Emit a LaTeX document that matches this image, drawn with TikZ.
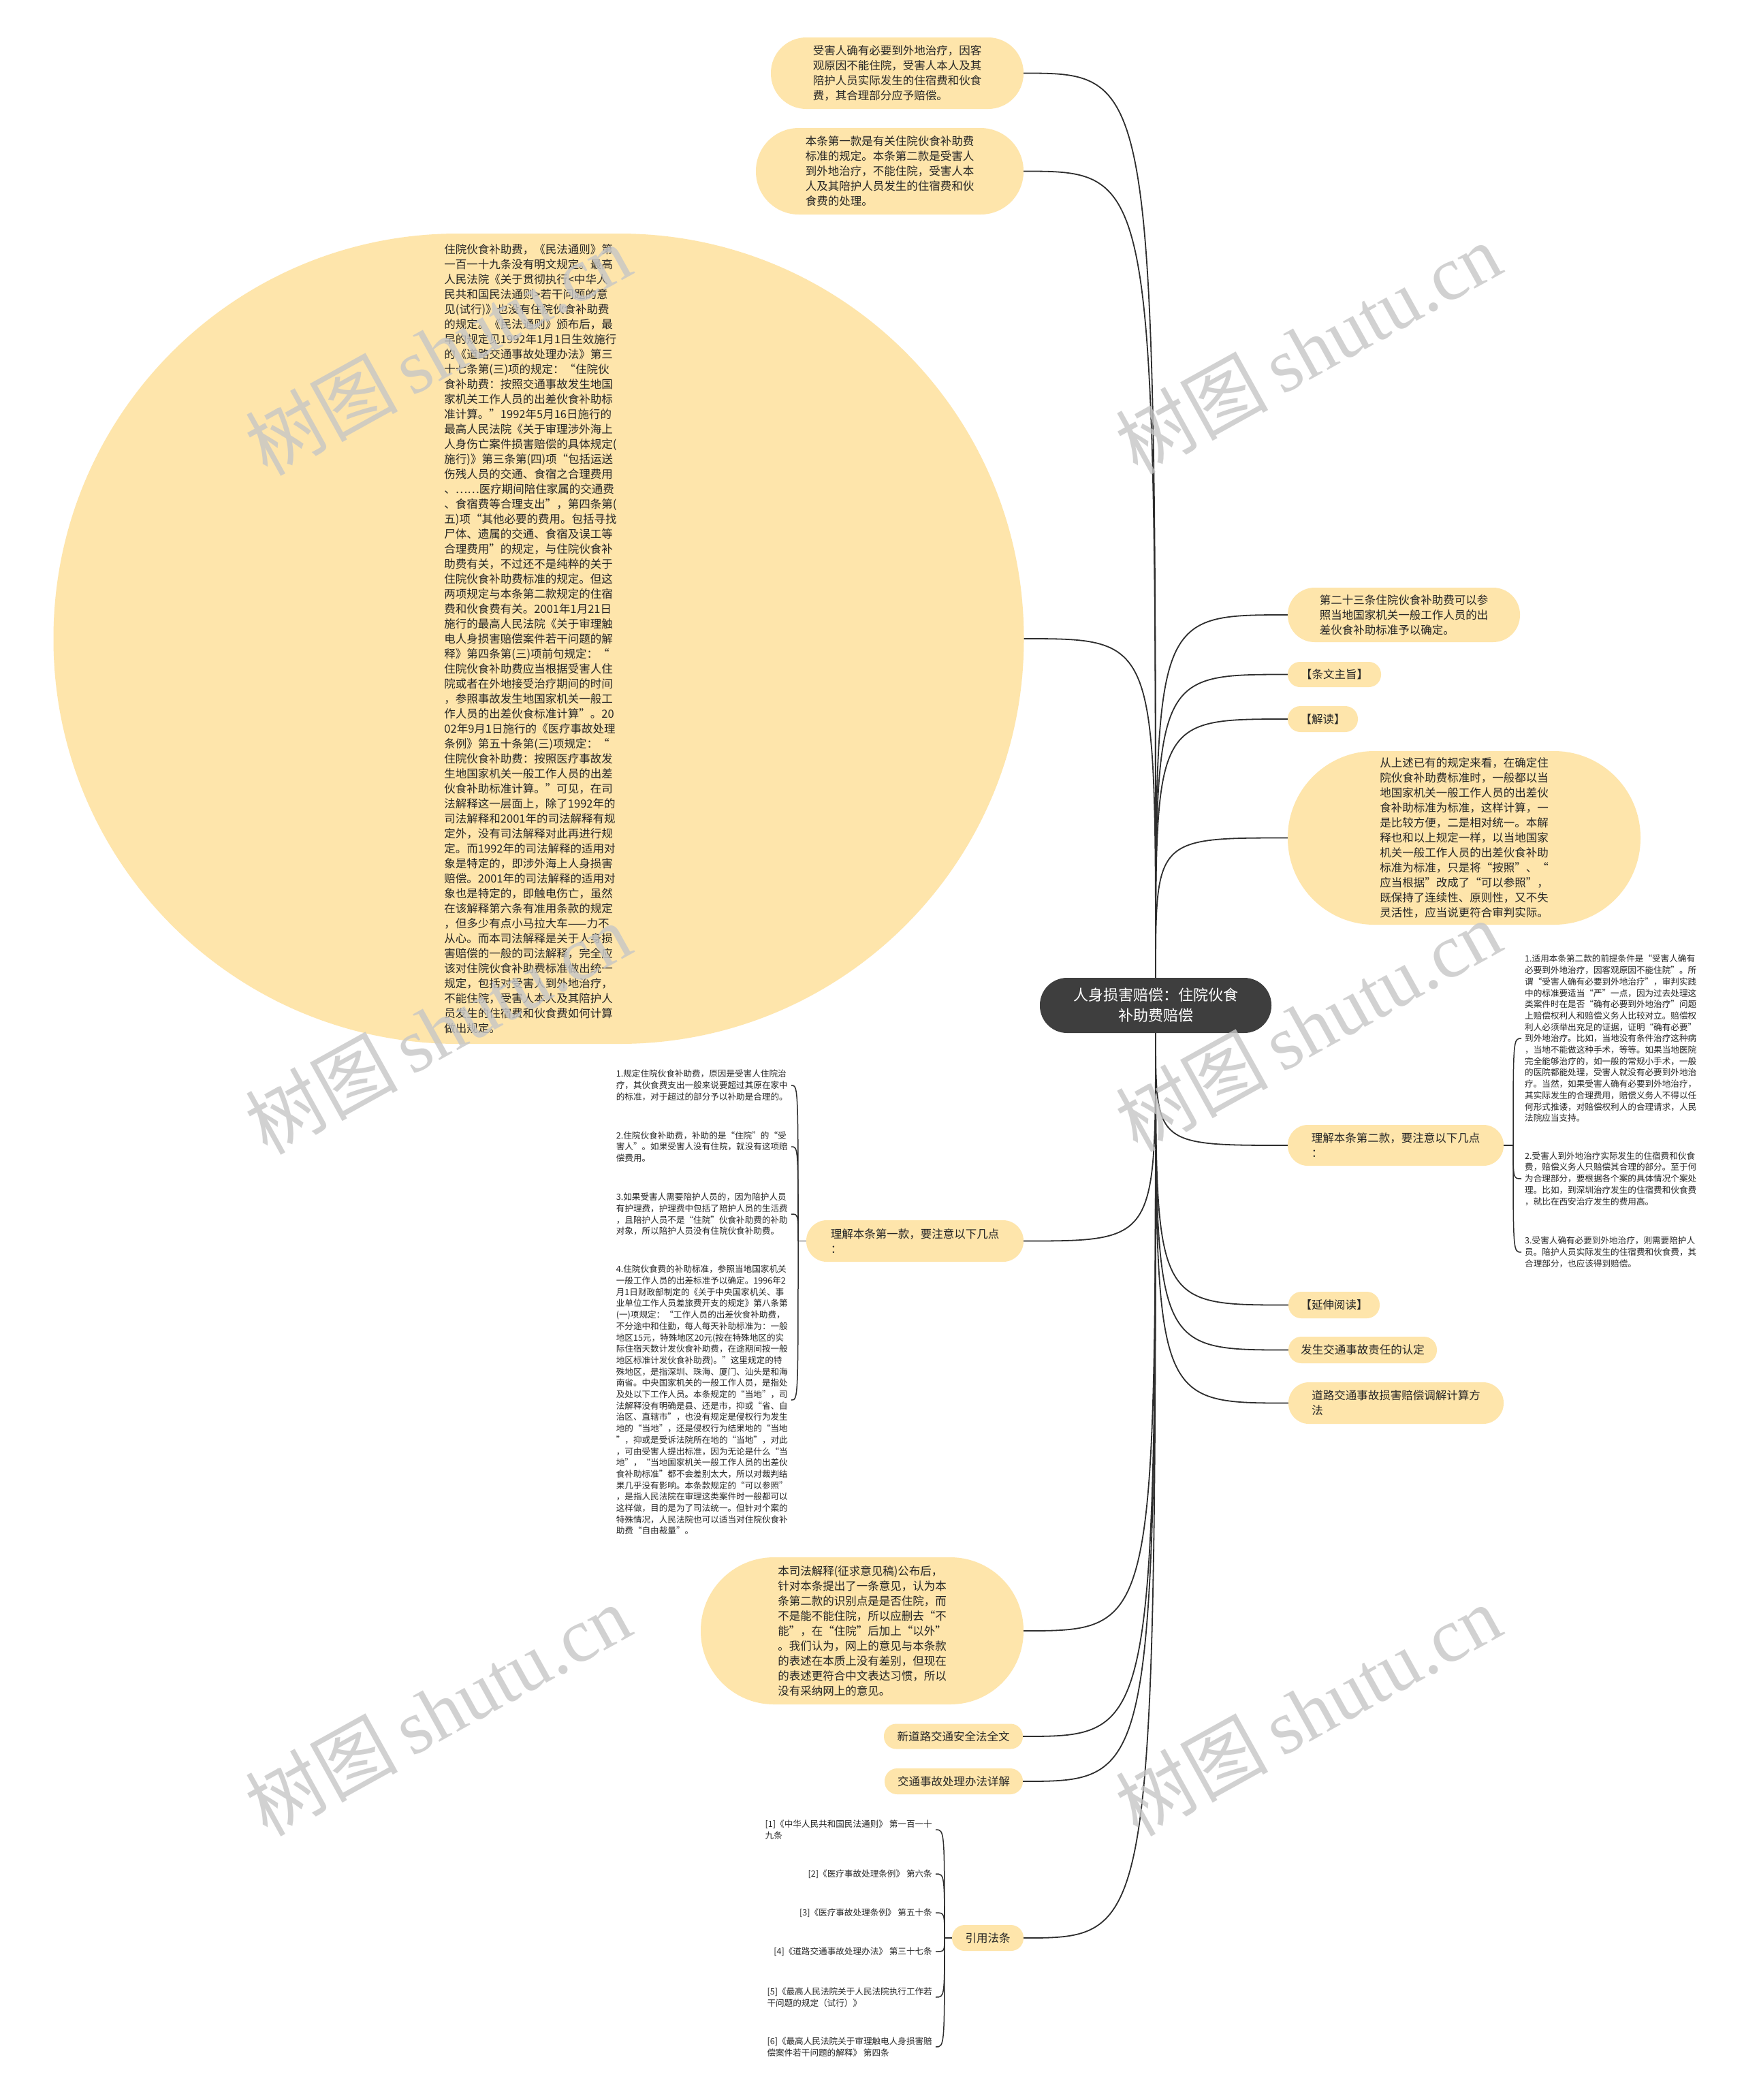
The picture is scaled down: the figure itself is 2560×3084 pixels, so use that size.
\documentclass[tikz,border=0pt]{standalone}
\usepackage{fontspec}
\setmainfont{Noto Sans CJK SC}
\newfontfamily\wmserif{Liberation Serif}
\usetikzlibrary{calc}
\definecolor{nodefill}{HTML}{FEE5AB}
\definecolor{rootfill}{HTML}{3E3E3E}
\definecolor{linec}{HTML}{2E2E2E}
\definecolor{txt}{HTML}{262626}
\definecolor{wm}{HTML}{C6C6C6}
\tikzset{
  pill/.style n args={3}{rectangle, fill=nodefill, text=txt, minimum width=#1pt, minimum height=#2pt, rounded corners=#3pt, inner sep=0pt, align=left, font=\fontsize{16.5}{22}\selectfont},
  rootbox/.style={rectangle, fill=rootfill, text=white, minimum width=340pt, minimum height=81pt, rounded corners=40pt, inner sep=0pt, align=center, font=\fontsize{22}{30}\selectfont},
  item/.style={inner xsep=5pt, inner ysep=0pt, align=left, text=txt, font=\fontsize{12.6}{16.7}\selectfont},
  conn/.style={draw=linec, line width=1.8pt},
  brk/.style={draw=linec, line width=1.5pt},
  wmark/.style={text=wm, text opacity=0.8, rotate=29, inner sep=0pt},
}
\begin{document}
\begin{tikzpicture}[x=1pt,y=-1pt]
\useasboundingbox (0,0) rectangle (2560,3084);
\fill[white] (0,0) rectangle (2560,3084);

% root
\node[rootbox] (root) at (1697,1476.5) {人身损害赔偿：住院伙食\\补助费赔偿};

% upper-left nodes
\node[pill={371}{105}{52}] (n1) at (1317.5,107.5) {受害人确有必要到外地治疗，因客\\观原因不能住院，受害人本人及其\\陪护人员实际发生的住宿费和伙食\\费，其合理部分应予赔偿。};
\node[pill={393}{127}{63}] (n2) at (1306.5,251.5) {本条第一款是有关住院伙食补助费\\标准的规定。本条第二款是受害人\\到外地治疗，不能住院，受害人本\\人及其陪护人员发生的住宿费和伙\\食费的处理。};
\node[pill={1425}{1190}{594}] (e1) at (791,938) {};
\node[inner sep=0pt, align=left, text=txt, font=\fontsize{16.5}{22}\selectfont] (e1t) at (779,938) {住院伙食补助费，《民法通则》第\\
一百一十九条没有明文规定。最高\\
人民法院《关于贯彻执行<中华人\\
民共和国民法通则>若干问题的意\\
见(试行)》也没有住院伙食补助费\\
的规定。《民法通则》颁布后，最\\
早的规定见1992年1月1日生效施行\\
的《道路交通事故处理办法》第三\\
十七条第(三)项的规定：“住院伙\\
食补助费：按照交通事故发生地国\\
家机关工作人员的出差伙食补助标\\
准计算。”1992年5月16日施行的\\
最高人民法院《关于审理涉外海上\\
人身伤亡案件损害赔偿的具体规定(\\
施行)》第三条第(四)项“包括运送\\
伤残人员的交通、食宿之合理费用\\
、……医疗期间陪住家属的交通费\\
、食宿费等合理支出”，第四条第(\\
五)项“其他必要的费用。包括寻找\\
尸体、遗属的交通、食宿及误工等\\
合理费用”的规定，与住院伙食补\\
助费有关，不过还不是纯粹的关于\\
住院伙食补助费标准的规定。但这\\
两项规定与本条第二款规定的住宿\\
费和伙食费有关。2001年1月21日\\
施行的最高人民法院《关于审理触\\
电人身损害赔偿案件若干问题的解\\
释》第四条第(三)项前句规定：“\\
住院伙食补助费应当根据受害人住\\
院或者在外地接受治疗期间的时间\\
，参照事故发生地国家机关一般工\\
作人员的出差伙食标准计算”。20\\
02年9月1日施行的《医疗事故处理\\
条例》第五十条第(三)项规定：“\\
住院伙食补助费：按照医疗事故发\\
生地国家机关一般工作人员的出差\\
伙食补助标准计算。”可见，在司\\
法解释这一层面上，除了1992年的\\
司法解释和2001年的司法解释有规\\
定外，没有司法解释对此再进行规\\
定。而1992年的司法解释的适用对\\
象是特定的，即涉外海上人身损害\\
赔偿。2001年的司法解释的适用对\\
象也是特定的，即触电伤亡，虽然\\
在该解释第六条有准用条款的规定\\
，但多少有点小马拉大车——力不\\
从心。而本司法解释是关于人身损\\
害赔偿的一般的司法解释，完全应\\
该对住院伙食补助费标准做出统一\\
规定，包括对受害人到外地治疗，\\
不能住院，受害人本人及其陪护人\\
员发生的住宿费和伙食费如何计算\\
做出规定。};

% right nodes
\node[pill={341}{80}{39.5}] (r1) at (2061.5,903) {第二十三条住院伙食补助费可以参\\照当地国家机关一般工作人员的出\\差伙食补助标准予以确定。};
\node[pill={137}{37}{18}] (r2) at (1959.5,990.5) {【条文主旨】};
\node[pill={103}{38}{18.5}] (r3) at (1942.5,1056) {【解读】};
\node[pill={518}{255}{127}] (r4) at (2150,1230.5) {从上述已有的规定来看，在确定住\\院伙食补助费标准时，一般都以当\\地国家机关一般工作人员的出差伙\\食补助标准为标准，这样计算，一\\是比较方便，二是相对统一。本解\\释也和以上规定一样，以当地国家\\机关一般工作人员的出差伙食补助\\标准为标准，只是将“按照”、“\\应当根据”改成了“可以参照”，\\既保持了连续性、原则性，又不失\\灵活性，应当说更符合审判实际。};
\node[pill={317}{60}{29.5}] (r5) at (2049.5,1682) {理解本条第二款，要注意以下几点\\：};
\node[pill={134}{39}{19}] (r6) at (1959,1916.5) {【延伸阅读】};
\node[pill={218}{39}{19}] (r7) at (2001,1982.5) {发生交通事故责任的认定};
\node[pill={316}{61}{30}] (r8) at (2050,2060.5) {道路交通事故损害赔偿调解计算方\\法};

% lower-left nodes
\node[pill={319}{61}{30}] (l1) at (1343.5,1822.5) {理解本条第一款，要注意以下几点\\：};
\node[pill={474}{216}{107.5}] (l2) at (1266,2395) {本司法解释(征求意见稿)公布后，\\针对本条提出了一条意见，认为本\\条第二款的识别点是是否住院，而\\不是能不能住院，所以应删去“不\\能”，在“住院”后加上“以外”\\。我们认为，网上的意见与本条款\\的表述在本质上没有差别，但现在\\的表述更符合中文表达习惯，所以\\没有采纳网上的意见。};
\node[pill={204}{37}{18}] (l3) at (1400,2550) {新道路交通安全法全文};
\node[pill={203}{38}{18.5}] (l4) at (1400.5,2616) {交通事故处理办法详解};
\node[pill={105}{38}{18.5}] (l5) at (1450.5,2846) {引用法条};

% items of r5
\node[item, anchor=west] (a1) at (2234,1525) {1.适用本条第二款的前提条件是“受害人确有\\必要到外地治疗，因客观原因不能住院”。所\\谓“受害人确有必要到外地治疗”，审判实践\\中的标准要适当“严”一点，因为过去处理这\\类案件时在是否“确有必要到外地治疗”问题\\上赔偿权利人和赔偿义务人比较对立。赔偿权\\利人必须举出充足的证据，证明“确有必要”\\到外地治疗。比如，当地没有条件治疗这种病\\，当地不能做这种手术，等等。如果当地医院\\完全能够治疗的，如一般的常规小手术，一般\\的医院都能处理，受害人就没有必要到外地治\\疗。当然，如果受害人确有必要到外地治疗，\\其实际发生的合理费用，赔偿义务人不得以任\\何形式推诿，对赔偿权利人的合理请求，人民\\法院应当支持。};
\node[item, anchor=west] (a2) at (2234,1731) {2.受害人到外地治疗实际发生的住宿费和伙食\\费，赔偿义务人只赔偿其合理的部分。至于何\\为合理部分，要根据各个案的具体情况个案处\\理。比如，到深圳治疗发生的住宿费和伙食费\\，就比在西安治疗发生的费用高。};
\node[item, anchor=west] (a3) at (2234,1839) {3.受害人确有必要到外地治疗，则需要陪护人\\员。陪护人员实际发生的住宿费和伙食费，其\\合理部分，也应该得到赔偿。};

% items of l1
\node[item, anchor=east] (b1) at (1162,1594) {1.规定住院伙食补助费，原因是受害人住院治\\疗，其伙食费支出一般来说要超过其原在家中\\的标准，对于超过的部分予以补助是合理的。};
\node[item, anchor=east] (b2) at (1162,1684) {2.住院伙食补助费，补助的是“住院”的“受\\害人”。如果受害人没有住院，就没有这项赔\\偿费用。};
\node[item, anchor=east] (b3) at (1162,1783) {3.如果受害人需要陪护人员的，因为陪护人员\\有护理费，护理费中包括了陪护人员的生活费\\，且陪护人员不是“住院”伙食补助费的补助\\对象，所以陪护人员没有住院伙食补助费。};
\node[item, anchor=east] (b4) at (1162,2056) {4.住院伙食费的补助标准，参照当地国家机关\\一般工作人员的出差标准予以确定。1996年2\\月1日财政部制定的《关于中央国家机关、事\\业单位工作人员差旅费开支的规定》第八条第\\(一)项规定：“工作人员的出差伙食补助费，\\不分途中和住勤，每人每天补助标准为：一般\\地区15元，特殊地区20元(按在特殊地区的实\\际住宿天数计发伙食补助费，在途期间按一般\\地区标准计发伙食补助费)。”这里规定的特\\殊地区，是指深圳、珠海、厦门、汕头是和海\\南省。中央国家机关的一般工作人员，是指处\\及处以下工作人员。本条规定的“当地”，司\\法解释没有明确是县、还是市，抑或“省、自\\治区、直辖市”，也没有规定是侵权行为发生\\地的“当地”，还是侵权行为结果地的“当地\\”，抑或是受诉法院所在地的“当地”，对此\\，可由受害人提出标准，因为无论是什么“当\\地”，“当地国家机关一般工作人员的出差伙\\食补助标准”都不会差别太大，所以对裁判结\\果几乎没有影响。本条款规定的“可以参照”\\，是指人民法院在审理这类案件时一般都可以\\这样做，目的是为了司法统一。但针对个案的\\特殊情况，人民法院也可以适当对住院伙食补\\助费“自由裁量”。};

% references of l5
\node[item, anchor=east, font=\fontsize{12.6}{17}\selectfont] (c1) at (1374,2687) {[1]《中华人民共和国民法通则》 第一百一十\\九条};
\node[item, anchor=east, font=\fontsize{12.6}{17}\selectfont] (c2) at (1374,2752) {[2]《医疗事故处理条例》 第六条};
\node[item, anchor=east, font=\fontsize{12.6}{17}\selectfont] (c3) at (1374,2809) {[3]《医疗事故处理条例》 第五十条};
\node[item, anchor=east, font=\fontsize{12.6}{17}\selectfont] (c4) at (1374,2866) {[4]《道路交通事故处理办法》 第三十七条};
\node[item, anchor=east, font=\fontsize{12.6}{17}\selectfont] (c5) at (1374,2933) {[5]《最高人民法院关于人民法院执行工作若\\干问题的规定（试行）》};
\node[item, anchor=east, font=\fontsize{12.6}{17}\selectfont] (c6) at (1374,3006) {[6]《最高人民法院关于审理触电人身损害赔\\偿案件若干问题的解释》 第四条};

% connectors from root (upper)
\foreach \n in {n1,n2,e1}{
  \draw[conn] (root.north) .. controls (root.north |- \n.east) .. (\n.east);
}
\foreach \n in {r1,r2,r3,r4}{
  \draw[conn] (root.north) .. controls (root.north |- \n.west) .. (\n.west);
}
% connectors from root (lower)
\foreach \n in {r5,r6,r7,r8}{
  \draw[conn] (root.south) .. controls (root.south |- \n.west) .. (\n.west);
}
\foreach \n in {l1,l2,l3,l4,l5}{
  \draw[conn] (root.south) .. controls (root.south |- \n.east) .. (\n.east);
}

% brackets
\coordinate (r5s) at (2222,1682);
\draw[brk] (r5.east) -- (r5s);
\foreach \n in {a1,a2,a3}{
  \draw[brk] (r5s) .. controls (r5s |- \n.west) .. (\n.west);
}
\coordinate (l1s) at (1172,1822.5);
\draw[brk] (l1.west) -- (l1s);
\foreach \n in {b1,b2,b3,b4}{
  \draw[brk] (l1s) .. controls (l1s |- \n.east) .. (\n.east);
}
\coordinate (l5s) at (1387,2846);
\draw[brk] (l5.west) -- (l5s);
\foreach \n in {c1,c2,c3,c4,c5,c6}{
  \draw[brk] (l5s) .. controls (l5s |- \n.east) .. (\n.east);
}

% watermarks
\foreach \wx/\wy [count=\i] in {643/513,1921/511,643/1510,1921/1506,643/2511,1921/2511}{
  \node[wmark] (wm\i) at (\wx,\wy) {\fontsize{112}{112}\selectfont 树图\,{\wmserif shutu.cn}};
}
\end{tikzpicture}
\end{document}
